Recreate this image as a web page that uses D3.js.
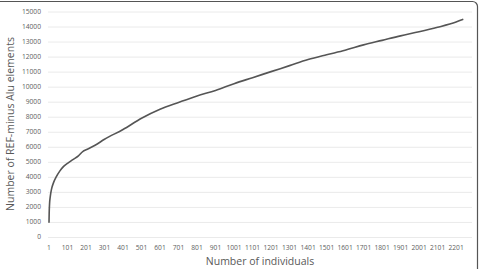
<!DOCTYPE html>
<html>
<head>
<meta charset="utf-8">
<script src="https://cdn.jsdelivr.net/npm/d3@7"></script>
<style>
  body { margin: 0; background: #fff; }
  text { font-family: "Open Sans", sans-serif; }
</style>
</head>
<body>
<div id="Canvas"></div>
<script>
// 讀出來的數值 (individuals -> REF-minus Alu elements)
let individuals = [1, 2, 4, 8, 15, 25, 40, 60, 80, 101, 130, 160, 185, 201, 250, 301, 401, 501, 601, 701, 801, 901, 1001, 1101, 1201, 1301, 1401, 1501, 1601, 1701, 1801, 1901, 2001, 2101, 2201, 2240]
let elements = [950, 1600, 2200, 2700, 3200, 3600, 4000, 4400, 4700, 4900, 5150, 5400, 5700, 5800, 6100, 6500, 7150, 7900, 8500, 8950, 9380, 9750, 10200, 10600, 11000, 11400, 11800, 12120, 12420, 12780, 13080, 13380, 13650, 13950, 14300, 14480]
let yTicks = [0, 1000, 2000, 3000, 4000, 5000, 6000, 7000, 8000, 9000, 10000, 11000, 12000, 13000, 14000, 15000]
let xTicks = [1, 101, 201, 301, 401, 501, 601, 701, 801, 901, 1001, 1101, 1201, 1301, 1401, 1501, 1601, 1701, 1801, 1901, 2001, 2101, 2201]

const W = 480, H = 269
let svg = d3.select("#Canvas")
    .append("svg")
    .attr("width", W)
    .attr("height", H)

//外框 (只看得到上、右)
svg.append("rect")
    .attr("x", -20).attr("y", 1.5)
    .attr("width", 497.5).attr("height", 300)
    .attr("rx", 5)
    .style("fill", "none")
    .style("stroke", "#555")
    .style("stroke-width", 1.2)

let xScale = d3.scaleLinear()
    .domain([1, 2287])
    .range([49, 472])
let yScale = d3.scaleLinear()
    .domain([0, 15000])
    .range([237, 11.5])

//格線
svg.append("g")
    .attr("transform", "translate(48,0)")
    .call(d3.axisLeft(yScale).tickValues(yTicks).tickSize(-(472 - 48)).tickFormat(""))
    .call(g => g.select(".domain").remove())
    .call(g => g.selectAll("line").style("stroke", "#e4e4e4").style("stroke-width", 0.8))

//Y軸文字
svg.append("g")
    .selectAll("text")
    .data(yTicks)
    .enter()
    .append("text")
    .attr("x", 41)
    .attr("y", d => yScale(d) + 2.4)
    .attr("text-anchor", "end")
    .style("font-size", "6.7px")
    .style("fill", "#606060")
    .text(d => d)

//X軸文字
svg.append("g")
    .selectAll("text")
    .data(xTicks)
    .enter()
    .append("text")
    .attr("x", d => xScale(d))
    .attr("y", 249.5)
    .attr("text-anchor", "middle")
    .style("font-size", "6.7px")
    .style("fill", "#606060")
    .text(d => d)

//曲線
let line = d3.line()
    .x((d, i) => xScale(individuals[i]))
    .y(d => yScale(d))
    .curve(d3.curveMonotoneX)
svg.append("path")
    .datum(elements)
    .attr("d", line)
    .style("fill", "none")
    .style("stroke", "#555")
    .style("stroke-width", 1.6)

//標題
svg.append("text")
    .attr("x", 260)
    .attr("y", 265)
    .attr("text-anchor", "middle")
    .style("font-size", "10.5px")
    .style("fill", "#595959")
    .text("Number of individuals")
svg.append("text")
    .attr("transform", "translate(14,124) rotate(-90)")
    .attr("text-anchor", "middle")
    .style("font-size", "10.5px")
    .style("fill", "#595959")
    .text("Number of REF-minus Alu elements")
</script>
</body>
</html>
